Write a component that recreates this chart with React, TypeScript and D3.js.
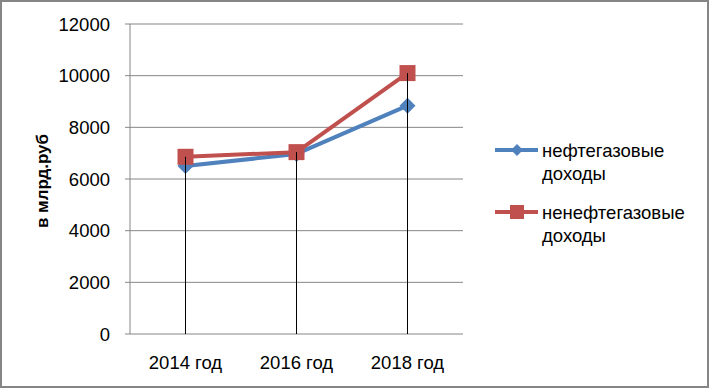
import React from "react";
import * as d3 from "d3";

const categories = ["2014 год", "2016 год", "2018 год"];
const oilGas = [6500, 6970, 8840];
const nonOilGas = [6860, 7040, 10100];
const seriesNames = ["нефтегазовые доходы", "ненефтегазовые доходы"];
const yTicks = [0, 2000, 4000, 6000, 8000, 10000, 12000];
const yLabel = "в млрд.руб";

const W = 709, H = 388;
const plot = { left: 130, right: 463, top: 24, bottom: 334 };
const BLUE = "#4F81BD", RED = "#C0504D", GRID = "#868686";
const FONT = "'Liberation Sans', Arial, sans-serif";
const FS = 18.5;

export default function App() {
  const x = d3.scaleBand<string>().domain(categories).range([plot.left, plot.right]);
  const y = d3.scaleLinear().domain([0, 12000]).range([plot.bottom, plot.top]);
  const cx = (c: string) => (x(c) as number) + x.bandwidth() / 2;
  const line = d3.line<number>().x((_, i) => cx(categories[i])).y((d) => y(d));
  const diamond = (px: number, py: number, r: number) =>
    `M${px},${py - r}L${px + r},${py}L${px},${py + r}L${px - r},${py}Z`;

  return (
    <svg width={W} height={H} style={{ position: "absolute", left: 0, top: 0, background: "#fff" }}>
      <rect x={1} y={1} width={W - 2} height={H - 2} fill="#fff" stroke={GRID} strokeWidth={2} />
      {yTicks.map((t) => (
        <g key={t}>
          <line x1={plot.left - 5} x2={plot.right} y1={y(t)} y2={y(t)} stroke={GRID} strokeWidth={1} />
          <text x={110} y={y(t)} dy="0.36em" textAnchor="end" fontFamily={FONT} fontSize={FS} fill="#000">
            {t}
          </text>
        </g>
      ))}
      <line x1={plot.left} x2={plot.left} y1={plot.top} y2={plot.bottom} stroke={GRID} strokeWidth={1} />
      {categories.map((c) => (
        <text key={c} x={cx(c)} y={362} dy="0.36em" textAnchor="middle" fontFamily={FONT} fontSize={FS} fill="#000">
          {c}
        </text>
      ))}
      <text
        transform={`translate(42,${(plot.top + plot.bottom) / 2 + 2}) rotate(-90)`}
        textAnchor="middle"
        dy="0.36em"
        fontFamily={FONT}
        fontSize={17}
        fontWeight="bold"
        fill="#000"
      >
        {yLabel}
      </text>
      <path d={line(oilGas) || ""} fill="none" stroke={BLUE} strokeWidth={4} strokeLinejoin="round" />
      <path d={line(nonOilGas) || ""} fill="none" stroke={RED} strokeWidth={4} strokeLinejoin="round" />
      {oilGas.map((v, i) => (
        <path key={"b" + i} d={diamond(cx(categories[i]), y(v), 8)} fill={BLUE} />
      ))}
      {nonOilGas.map((v, i) => (
        <rect key={"r" + i} x={cx(categories[i]) - 8} y={y(v) - 8} width={16} height={16} fill={RED} />
      ))}
      {categories.map((c, i) => (
        <line
          key={"d" + c}
          x1={cx(c)}
          x2={cx(c)}
          y1={y(Math.max(oilGas[i], nonOilGas[i]))}
          y2={plot.bottom}
          stroke="#000"
          strokeWidth={1}
        />
      ))}
      {[0, 1].map((k) => {
        const ly = k === 0 ? 150 : 212;
        const col = k === 0 ? BLUE : RED;
        const words = seriesNames[k].split(" ");
        return (
          <g key={"l" + k}>
            <line x1={495} x2={538} y1={ly} y2={ly} stroke={col} strokeWidth={4} />
            {k === 0 ? (
              <path d={diamond(517, ly, 6)} fill={col} />
            ) : (
              <rect x={510} y={ly - 7} width={14} height={14} fill={col} />
            )}
            {words.map((w, j) => (
              <text key={w} x={542} y={ly + j * 23} dy="0.36em" fontFamily={FONT} fontSize={FS} fill="#000">
                {w}
              </text>
            ))}
          </g>
        );
      })}
    </svg>
  );
}
